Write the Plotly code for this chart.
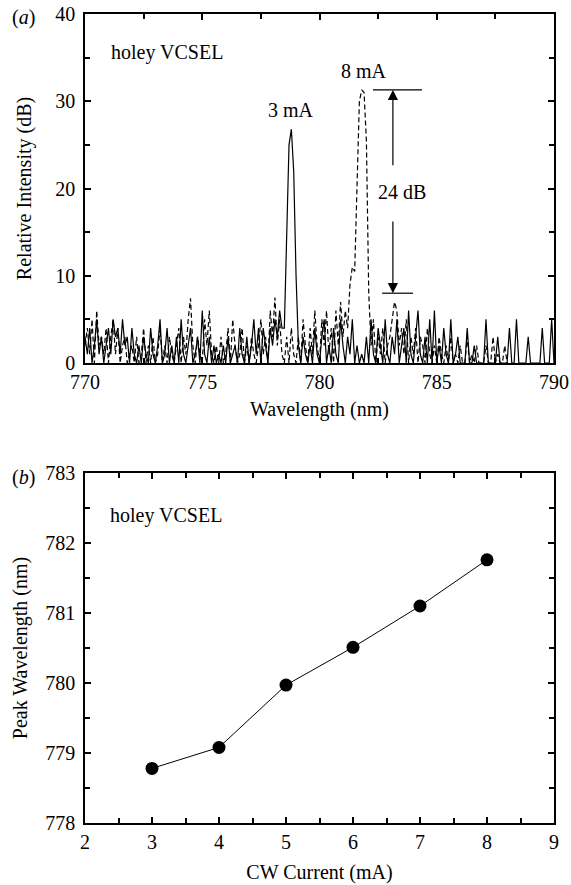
import numpy as np
import plotly.graph_objects as go

# ---------------- data ----------------
# (a) spectra, sampled every 0.1 nm
wl_3mA_start, wl_3mA_step = 770.0, 0.1
int_3mA = [
    3, 1, 4, 0, 2, 5, 1, 3, 0, 2,
    4, 1, 5, 3, 4, 1, 5, 2, 3, 0,
    4, 1, 0, 2, 0, 3, 1, 0, 4, 1,
    0, 2, 5, 0, 1, 4, 0, 2, 0, 3,
    0, 5, 1, 0, 2, 4, 0, 1, 3, 0,
    6, 1, 0, 3, 0, 2, 0, 1, 0, 2,
    0, 3, 0, 1, 2, 0, 4, 1, 0, 3,
    0, 2, 5, 1, 4, 0, 4, 2, 0, 4,
    2, 5, 3, 6, 4, 4, 14, 25, 26.8, 22,
    10, 2, 0, 3, 1, 0, 2, 0, 4, 1,
    0, 3, 5, 0, 2, 0, 4, 1, 0, 5,
    2, 0, 3, 1, 5, 0, 2, 0, 1, 0,
    3, 0, 5, 1, 0, 4, 2, 0, 5, 1,
    0, 3, 1, 5, 0, 2, 4, 0, 6, 1,
    0, 3, 6, 1, 0, 3, 0, 5, 0, 6,
    0, 2, 0, 4, 1, 0, 5, 0, 1, 3,
    0, 0, 0, 4, 0, 0, 2, 0, 0, 0,
    0, 5, 0, 0, 0, 0, 3, 0, 0, 0,
    0, 4, 0, 0, 5, 0, 0, 0, 0, 3,
    0, 0, 0, 0, 0, 4, 0, 0, 0, 5,
    0,
]
wl_8mA_start, wl_8mA_step = 770.0, 0.1
int_8mA = [
    2, 4, 1, 5, 0, 6, 2, 3, 1, 4,
    0, 3, 5, 1, 4, 0, 2, 3, 0, 1,
    2, 0, 3, 0, 1, 4, 0, 2, 0, 3,
    0, 1, 4, 0, 2, 0, 3, 1, 0, 2,
    4, 0, 3, 1, 5, 7.4, 2, 0, 3, 1,
    0, 5, 2, 6, 1, 0, 2, 0, 3, 0,
    1, 4, 0, 5, 2, 0, 1, 4, 0, 2,
    0, 3, 1, 0, 2, 5, 1, 3, 0, 6,
    3, 7.5, 2, 5, 1, 0, 3, 0, 4, 1,
    0, 3, 0, 5, 2, 0, 4, 1, 6, 2,
    0, 5, 2, 6, 1, 4, 0, 6, 2, 7,
    3, 6, 4, 9, 11, 10.5, 21, 30, 31.3, 31,
    25.5, 8, 2, 5, 0, 3, 1, 4, 0, 2,
    3, 5, 7, 6, 2, 4, 1, 5, 0, 3,
    1, 4, 0, 3, 2, 0, 4, 1, 0, 2,
    0, 3, 1, 0, 2, 0, 3, 0, 1, 0,
    2, 0, 0, 3, 0, 1, 0, 2, 0, 0,
    0, 2, 0, 0, 3, 0, 1, 0, 0, 2,
    0,
]
peak_8mA_dB = 31.3
floor_8mA_dB = 8.0
marker_wl = 783.13

# (b) peak wavelength vs current
cw_current = [3, 4, 5, 6, 7, 8]
peak_wavelength = [778.78, 779.08, 779.97, 780.51, 781.10, 781.76]

wl_3mA = wl_3mA_start + wl_3mA_step * np.arange(len(int_3mA))
wl_8mA = wl_8mA_start + wl_8mA_step * np.arange(len(int_8mA))

# ---------------- figure ----------------
W, H = 571, 885
ML, MT = 85, 14
MR = W - 554
MB = H - 823
PW, PH = W - ML - MR, H - MT - MB


def px(x):
    return (x - ML) / PW


def py(y):
    return (H - MB - y) / PH


FONT = "Liberation Serif, Times New Roman, DejaVu Serif, serif"
fig = go.Figure()

fig.add_trace(go.Scatter(x=wl_3mA, y=int_3mA, mode="lines",
                         line=dict(color="black", width=1.2),
                         xaxis="x", yaxis="y", name="3 mA"))
fig.add_trace(go.Scatter(x=wl_8mA, y=int_8mA, mode="lines",
                         line=dict(color="black", width=1.2, dash="5px,3px"),
                         xaxis="x", yaxis="y", name="8 mA"))
fig.add_trace(go.Scatter(x=cw_current, y=peak_wavelength, mode="lines+markers",
                         line=dict(color="black", width=1),
                         marker=dict(color="black", size=13),
                         xaxis="x2", yaxis="y2", name="peak"))

axis_common = dict(showline=True, linecolor="black", linewidth=1.5, mirror="ticks",
                   ticks="inside", ticklen=6, tickwidth=1.5, tickcolor="black",
                   showgrid=False, zeroline=False, automargin=False,
                   ticklabeloverflow="allow",
                   tickfont=dict(family=FONT, size=20, color="black"),
                   title_font=dict(family=FONT, size=20, color="black"))

top_dom = [py(363), py(14)]
bot_dom = [py(823), py(473)]

fig.update_layout(
    width=W, height=H,
    margin=dict(l=ML, r=MR, t=MT, b=MB),
    paper_bgcolor="white", plot_bgcolor="white",
    showlegend=False,
    font=dict(family=FONT, size=20, color="black"),
    xaxis=dict(**axis_common, domain=[0, 1], anchor="y", range=[770, 790],
               tick0=770, dtick=5,
               minor=dict(ticks="inside", ticklen=5, tickwidth=1.5, dtick=2.5, tick0=770, tickcolor="black"),
               title=dict(text="Wavelength (nm)", standoff=10)),
    yaxis=dict(**axis_common, domain=top_dom, anchor="x", range=[0, 40],
               tick0=0, dtick=10, ticklabelstandoff=4,
               minor=dict(ticks="inside", ticklen=5, tickwidth=1.5, dtick=5, tick0=0, tickcolor="black"),
               title=dict(text="Relative Intensity (dB)", standoff=18)),
    xaxis2=dict(**axis_common, domain=[0, 1], anchor="y2", range=[2, 9],
                tick0=2, dtick=1,
                minor=dict(ticks="inside", ticklen=5, tickwidth=1.5, dtick=0.5, tick0=2, tickcolor="black"),
                title=dict(text="CW Current (mA)", standoff=13)),
    yaxis2=dict(**axis_common, domain=bot_dom, anchor="x2", range=[778, 783],
                tick0=778, dtick=1, ticklabelstandoff=4,
                minor=dict(ticks="inside", ticklen=5, tickwidth=1.5, dtick=0.5, tick0=778, tickcolor="black"),
                title=dict(text="Peak Wavelength (nm)", standoff=12)),
)

ann_font = dict(family=FONT, size=20, color="black")


def label(text, x, y, xref="paper", yref="paper", xanchor="center"):
    return dict(text=text, xref=xref, yref=yref, x=x, y=y, xanchor=xanchor,
                yanchor="middle", showarrow=False, font=ann_font)


annotations = [
    label("(<i>a</i>)", px(23), py(18)),
    label("(<i>b</i>)", px(23), py(477)),
    label("holey VCSEL", px(109), py(52), xanchor="left"),
    label("holey VCSEL", px(108), py(515), xanchor="left"),
    label("3 mA", 778.8, 29.0, "x", "y"),
    label("8 mA", 781.9, 33.5, "x", "y"),
    label("24 dB", 783.5, 19.6, "x", "y"),
    dict(text="", xref="x", yref="y", x=marker_wl, y=peak_8mA_dB, axref="x", ayref="y",
         ax=marker_wl, ay=22.5, showarrow=True, arrowhead=2, arrowsize=1.7,
         arrowwidth=1.2, arrowcolor="black", standoff=0, startstandoff=0),
    dict(text="", xref="x", yref="y", x=marker_wl, y=floor_8mA_dB, axref="x", ayref="y",
         ax=marker_wl, ay=16.4, showarrow=True, arrowhead=2, arrowsize=1.7,
         arrowwidth=1.2, arrowcolor="black", standoff=0, startstandoff=0),
]
fig.update_layout(annotations=annotations)

fig.add_shape(type="line", xref="x", yref="y", x0=782.28, x1=784.37,
              y0=peak_8mA_dB, y1=peak_8mA_dB, line=dict(color="black", width=1.2))
fig.add_shape(type="line", xref="x", yref="y", x0=782.67, x1=783.99,
              y0=floor_8mA_dB, y1=floor_8mA_dB, line=dict(color="black", width=1.2))

fig.write_html(
    "out.html",
    config={"displayModeBar": False},
    post_script="document.body.style.margin='0';document.body.style.overflow='hidden';",
)
